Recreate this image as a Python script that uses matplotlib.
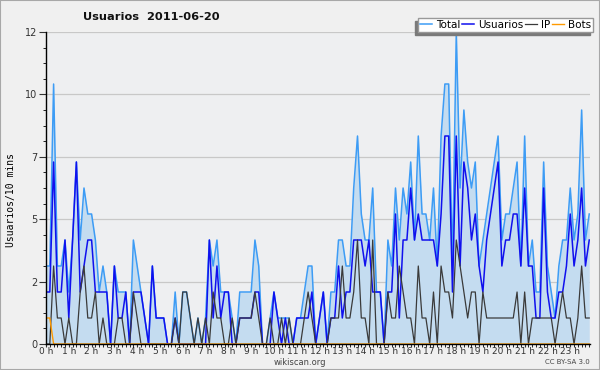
import matplotlib
matplotlib.use('Agg')
import matplotlib.pyplot as plt
from matplotlib.ticker import FixedLocator, MultipleLocator
from matplotlib.patches import Rectangle

# users per 10 minutes, 2011-06-20 (6 values per hour)
total = [3, 3, 10, 3, 3, 4,   2, 4, 7, 4, 6, 5,   5, 4, 2, 3, 2, 0,
         3, 2, 2, 2, 0, 4,    3, 2, 1, 0, 3, 1,   1, 1, 0, 0, 2, 0,
         2, 2, 1, 0, 1, 0,    1, 4, 3, 4, 2, 2,   2, 1, 0, 2, 2, 2,
         2, 4, 3, 0, 0, 1,    2, 1, 1, 1, 1, 0,   1, 1, 2, 3, 3, 0,
         1, 2, 0, 2, 2, 4,    4, 3, 3, 6, 8, 5,   4, 4, 6, 2, 2, 0,
         4, 3, 6, 4, 6, 5,    7, 4, 8, 5, 5, 4,   6, 3, 8, 10, 10, 3,
         12, 6, 9, 7, 6, 7,   3, 4, 5, 6, 7, 8,   4, 5, 5, 6, 7, 3,
         8, 3, 4, 2, 2, 7,    3, 2, 1, 3, 4, 4,   6, 4, 5, 9, 4, 5]
usuarios = [2, 2, 7, 2, 2, 4,   1, 4, 7, 2, 3, 4,   4, 2, 2, 2, 2, 0,
            3, 1, 1, 2, 0, 2,   2, 2, 1, 0, 3, 1,   1, 1, 0, 0, 1, 0,
            0, 0, 0, 0, 0, 0,   0, 4, 1, 3, 1, 2,   2, 0, 0, 1, 1, 1,
            1, 2, 2, 0, 0, 0,   2, 1, 0, 1, 0, 0,   1, 1, 1, 1, 2, 0,
            1, 2, 0, 1, 1, 3,   1, 2, 2, 4, 4, 4,   3, 4, 2, 2, 2, 0,
            2, 2, 5, 1, 4, 4,   6, 4, 5, 4, 4, 4,   4, 3, 5, 8, 8, 2,
            8, 3, 7, 6, 4, 5,   3, 2, 4, 5, 6, 7,   3, 4, 4, 5, 5, 3,
            6, 3, 3, 1, 1, 6,   2, 1, 1, 2, 2, 3,   5, 3, 4, 6, 3, 4]
ip = [0, 0, 3, 1, 1, 0,   1, 0, 0, 2, 3, 1,   1, 2, 0, 1, 0, 0,
      0, 1, 1, 0, 0, 2,   1, 0, 0, 0, 0, 0,   0, 0, 0, 0, 1, 0,
      2, 2, 1, 0, 1, 0,   1, 0, 2, 1, 1, 0,   0, 1, 0, 1, 1, 1,
      1, 2, 1, 0, 0, 1,   0, 0, 1, 0, 1, 0,   0, 0, 1, 2, 1, 0,
      0, 0, 0, 1, 1, 1,   3, 1, 1, 2, 4, 1,   1, 0, 4, 0, 0, 0,
      2, 1, 1, 3, 2, 1,   1, 0, 3, 1, 1, 0,   2, 0, 3, 2, 2, 1,
      4, 3, 2, 1, 2, 2,   0, 2, 1, 1, 1, 1,   1, 1, 1, 1, 2, 0,
      2, 0, 1, 1, 1, 1,   1, 1, 0, 1, 2, 1,   1, 0, 1, 3, 1, 1]
bots = [1, 1, 0, 0, 0, 0,   0, 0, 0, 0, 0, 0,   0, 0, 0, 0, 0, 0,
        0, 0, 0, 0, 0, 0,   0, 0, 0, 0, 0, 0,   0, 0, 0, 0, 0, 0,
        0, 0, 0, 0, 0, 0,   0, 0, 0, 0, 0, 0,   0, 0, 0, 0, 0, 0,
        0, 0, 0, 0, 0, 0,   0, 0, 0, 0, 0, 0,   0, 0, 0, 0, 0, 0,
        0, 0, 0, 0, 0, 0,   0, 0, 0, 0, 0, 0,   0, 0, 0, 0, 0, 0,
        0, 0, 0, 0, 0, 0,   0, 0, 0, 0, 0, 0,   0, 0, 0, 0, 0, 0,
        0, 0, 0, 0, 0, 0,   0, 0, 0, 0, 0, 0,   0, 0, 0, 0, 0, 0,
        0, 0, 0, 0, 0, 0,   0, 0, 0, 0, 0, 0,   0, 0, 0, 0, 0, 0]
hour_labels = ['%d h' % h for h in range(24)]
ytick_vals = [0, 2.4, 4.8, 7.2, 9.6, 12]
ytick_labels = ['0', '2', '5', '7', '10', '12']

x = range(len(total))

fig = plt.figure(figsize=(6, 3.7), dpi=100, facecolor='#f0f0f0')
fig.patches.append(Rectangle((0, 0), 1, 1, transform=fig.transFigure,
                             fill=False, edgecolor='#a8a8a8', linewidth=1.5))
ax = fig.add_axes([46 / 600., 26 / 370., 544 / 600., 312 / 370.])
ax.set_facecolor('#eeeff1')

ax.fill_between(x, total, 0, color='#c4dcf0', linewidth=0)
ax.plot(x, total, color='#3d9cf5', lw=1.1, label='Total')
ax.plot(x, usuarios, color='#1010ee', lw=1.1, label='Usuarios')
ax.plot(x, ip, color='#3a3a3a', lw=0.9, label='IP')
ax.plot(x, bots, color='#ff9a00', lw=1.0, label='Bots')

ax.set_xlim(0, 143.2)
ax.set_ylim(0, 12)
ax.yaxis.set_major_locator(FixedLocator(ytick_vals))
ax.set_yticklabels(ytick_labels)
ax.yaxis.set_minor_locator(MultipleLocator(0.6))
ax.set_xticks(range(0, 144, 6))
ax.set_xticklabels(hour_labels)
ax.xaxis.set_minor_locator(MultipleLocator(1))
ax.grid(axis='y', which='major', color='#c8c8c8', lw=0.9)
ax.set_axisbelow(True)
for s in ['top', 'right']:
    ax.spines[s].set_visible(False)
ax.spines['left'].set_linewidth(1.0)
ax.spines['bottom'].set_linewidth(1.0)
ax.tick_params(axis='y', which='major', length=5, labelsize=7, colors='#333333', pad=1)
ax.tick_params(axis='y', which='minor', length=2.5)
ax.tick_params(axis='x', which='major', length=2.5, labelsize=6.5, colors='#333333', pad=0)
ax.tick_params(axis='x', which='minor', length=2.5)
ax.set_ylabel('Usuarios/10 mins', family='DejaVu Sans Mono', fontsize=7)
ax.yaxis.set_label_coords(-0.056, 0.46)

fig.text(151 / 600., 1 - 17 / 370., 'Usuarios  2011-06-20', ha='center', va='center',
         fontsize=8.2, fontweight='bold', color='#111111')
fig.text(300 / 600., 1 - 362.5 / 370., 'wikiscan.org', ha='center', va='center',
         fontsize=6, color='#444444')
fig.text(590 / 600., 1 - 362.5 / 370., 'CC BY-SA 3.0', ha='right', va='center',
         fontsize=5, color='#444444')

leg = fig.legend(loc='upper right', bbox_to_anchor=(593 / 600., 1 - 17.5 / 370.),
                 ncol=4, fontsize=7.5, frameon=True, fancybox=False,
                 shadow={'ox': -2.2, 'oy': -2.4, 'facecolor': '#7a7a7a',
                         'edgecolor': '#7a7a7a', 'alpha': 1},
                 borderaxespad=0, borderpad=0.2, handlelength=1.1,
                 handletextpad=0.4, columnspacing=0.2)
leg.get_frame().set_edgecolor('#999999')
leg.get_frame().set_linewidth(1.0)

fig.savefig('out.png', dpi=100, facecolor=fig.get_facecolor())
